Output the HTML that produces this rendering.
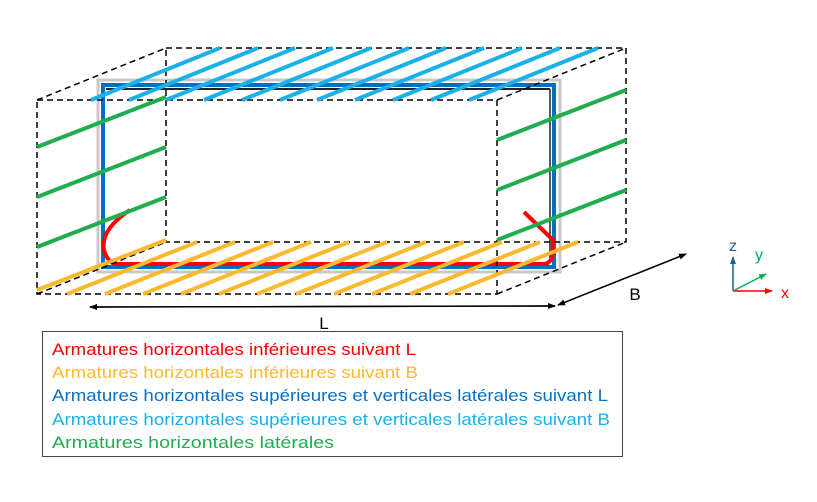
<!DOCTYPE html>
<html><head><meta charset="utf-8"><style>html,body{margin:0;padding:0;background:#fff}svg{display:block}</style></head>
<body>
<svg width="817" height="502" viewBox="0 0 817 502" xmlns="http://www.w3.org/2000/svg" font-family="Liberation Sans, sans-serif">
<defs>
<marker id="ah" markerWidth="8" markerHeight="8" refX="7" refY="4" orient="auto" markerUnits="userSpaceOnUse"><path d="M0,1 L8,4 L0,7 z" fill="#000"/></marker>
<marker id="az" markerWidth="8" markerHeight="8" refX="7" refY="4" orient="auto" markerUnits="userSpaceOnUse"><path d="M0,1 L8,4 L0,7 z" fill="#1f5f8b"/></marker>
<marker id="ax" markerWidth="8" markerHeight="8" refX="7" refY="4" orient="auto" markerUnits="userSpaceOnUse"><path d="M0,1 L8,4 L0,7 z" fill="#f00"/></marker>
<marker id="ay" markerWidth="8" markerHeight="8" refX="7" refY="4" orient="auto" markerUnits="userSpaceOnUse"><path d="M0,1 L8,4 L0,7 z" fill="#00b050"/></marker>
</defs>
<rect x="98" y="80" width="462" height="192" fill="none" stroke="#c8c8c8" stroke-width="3"/>
<rect x="103" y="85" width="451" height="182" fill="none" stroke="#0070c0" stroke-width="4"/>
<line x1="106" y1="89" x2="550" y2="89" stroke="#222" stroke-width="2"/>
<line x1="550" y1="89" x2="550" y2="262" stroke="#222" stroke-width="1.5"/>
<path d="M130,210 Q100,230 104,250 Q108,264 118,264 L545,264 Q553,262 553,250 L553,240 L524,212" fill="none" stroke="#f00" stroke-width="4"/>
<g fill="none" stroke="#000" stroke-width="1.5" stroke-dasharray="6,4">
<rect x="37" y="100" width="460" height="194"/>
<rect x="166" y="48" width="460" height="194"/>
<line x1="37" y1="100" x2="166" y2="48"/><line x1="497" y1="100" x2="626" y2="48"/>
<line x1="37" y1="294" x2="166" y2="242"/><line x1="497" y1="294" x2="626" y2="242"/>
</g>
<g stroke="#1ab0ec" stroke-width="4">
<line x1="91" y1="100" x2="220" y2="48"/><line x1="129" y1="100" x2="258" y2="48"/><line x1="166" y1="100" x2="295" y2="48"/><line x1="204" y1="100" x2="333" y2="48"/><line x1="242" y1="100" x2="371" y2="48"/><line x1="280" y1="100" x2="409" y2="48"/><line x1="317" y1="100" x2="446" y2="48"/><line x1="355" y1="100" x2="484" y2="48"/><line x1="393" y1="100" x2="522" y2="48"/><line x1="431" y1="100" x2="560" y2="48"/><line x1="469" y1="100" x2="598" y2="48"/>
</g>
<g stroke="#1fad4f" stroke-width="4">
<line x1="37" y1="147" x2="166" y2="97"/><line x1="37" y1="197" x2="166" y2="147"/><line x1="37" y1="247" x2="166" y2="197"/>
<line x1="497" y1="140" x2="626" y2="90"/><line x1="497" y1="190" x2="626" y2="140"/><line x1="497" y1="240" x2="626" y2="190"/>
</g>
<g stroke="#fbb92f" stroke-width="4">
<line x1="37" y1="290" x2="166" y2="240"/>
<line x1="67" y1="294" x2="197" y2="242"/><line x1="105" y1="294" x2="235" y2="242"/><line x1="143" y1="294" x2="273" y2="242"/><line x1="181" y1="294" x2="311" y2="242"/><line x1="219" y1="294" x2="349" y2="242"/><line x1="257" y1="294" x2="387" y2="242"/><line x1="296" y1="294" x2="426" y2="242"/><line x1="334" y1="294" x2="464" y2="242"/><line x1="372" y1="294" x2="502" y2="242"/><line x1="410" y1="294" x2="540" y2="242"/><line x1="448" y1="294" x2="578" y2="242"/>
</g>
<line x1="555" y1="306" x2="90" y2="307" stroke="#000" stroke-width="1.4" marker-end="url(#ah)"/>
<line x1="90" y1="307" x2="555" y2="306" stroke="#000" stroke-width="1.4" marker-end="url(#ah)"/>
<line x1="686" y1="254" x2="558" y2="305" stroke="#000" stroke-width="1.4" marker-end="url(#ah)"/>
<line x1="558" y1="305" x2="686" y2="254" stroke="#000" stroke-width="1.4" marker-end="url(#ah)"/>
<text x="324" y="329" font-size="17" text-anchor="middle">L</text>
<text x="635" y="300" font-size="17" text-anchor="middle">B</text>
<line x1="733" y1="291" x2="733" y2="257" stroke="#1f5f8b" stroke-width="1.5" marker-end="url(#az)"/>
<line x1="733" y1="291" x2="772" y2="291" stroke="#f00" stroke-width="1.5" marker-end="url(#ax)"/>
<line x1="733" y1="291" x2="766" y2="274" stroke="#00b050" stroke-width="1.5" marker-end="url(#ay)"/>
<text x="733" y="251" font-size="16" fill="#1f5f8b" text-anchor="middle">z</text>
<text x="759" y="260" font-size="16" fill="#00b050" text-anchor="middle">y</text>
<text x="785" y="298" font-size="16" fill="#f00" text-anchor="middle">x</text>
<rect x="42.5" y="331.5" width="580" height="125" fill="none" stroke="#444" stroke-width="1"/>
<g font-size="17">
<text x="52" y="355" fill="#f00" textLength="364" lengthAdjust="spacingAndGlyphs">Armatures horizontales inférieures suivant L</text>
<text x="52" y="378" fill="#fbb92f" textLength="366" lengthAdjust="spacingAndGlyphs">Armatures horizontales inférieures suivant B</text>
<text x="52" y="401" fill="#0b6fc0" textLength="556" lengthAdjust="spacingAndGlyphs">Armatures horizontales supérieures et verticales latérales suivant L</text>
<text x="52" y="425" fill="#1ab0ec" textLength="558" lengthAdjust="spacingAndGlyphs">Armatures horizontales supérieures et verticales latérales suivant B</text>
<text x="52" y="448" fill="#1fad4f" textLength="282" lengthAdjust="spacingAndGlyphs">Armatures horizontales latérales</text>
</g>
</svg>
</body></html>
